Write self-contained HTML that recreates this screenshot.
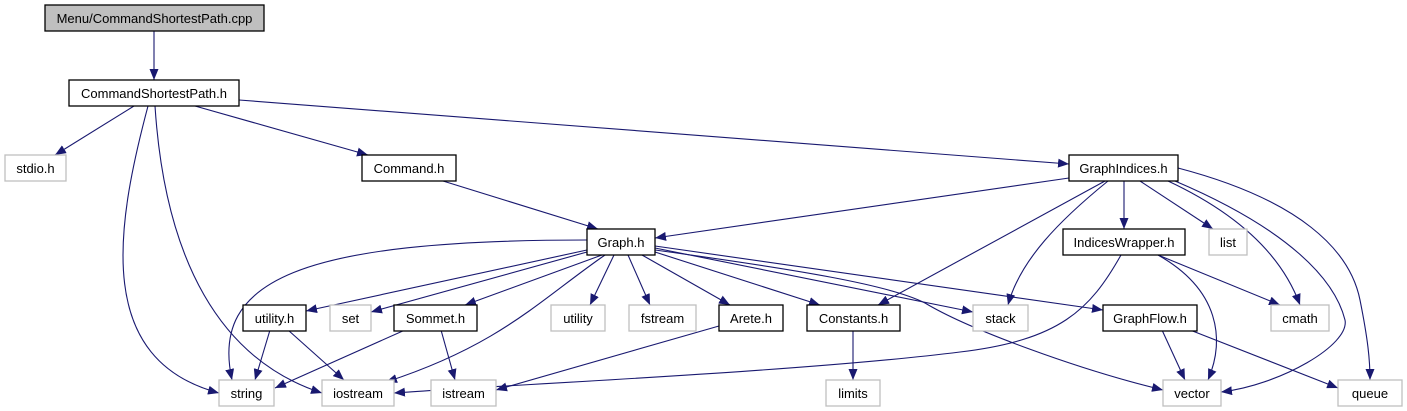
<!DOCTYPE html>
<html><head><meta charset="utf-8"><style>
html,body{margin:0;padding:0;background:#fff;}
svg{display:block;}
text{font-family:"Liberation Sans",Arial,sans-serif;font-size:13px;text-anchor:middle;fill:#000;}
.b{fill:#fff;stroke:#000;stroke-width:1.3;}
.g{fill:#fff;stroke:#bfbfbf;stroke-width:1.3;}
.e{fill:none;stroke:#191970;stroke-width:1.1;marker-end:url(#a);}
</style></head><body>
<svg width="1407" height="411" viewBox="0 0 1407 411" xmlns="http://www.w3.org/2000/svg">
<defs><marker id="a" markerWidth="11" markerHeight="9" refX="11" refY="4.5" orient="auto" markerUnits="userSpaceOnUse"><path d="M0,0 L11,4.5 L0,9 z" fill="#191970"/></marker></defs>
<!-- edges -->
<path class="e" d="M154,31 L154,80"/>
<path class="e" d="M134,106 L55,155"/>
<path class="e" d="M195,106 L368,155"/>
<path class="e" d="M239,100 L1069,164"/>
<path class="e" d="M148,106 C115,230 95,360 219,393"/>
<path class="e" d="M155,106 C165,260 220,360 322,393"/>
<path class="e" d="M443,181 L598,229"/>
<path class="e" d="M1069,178 L655,238"/>
<path class="e" d="M1124,181 L1124,229"/>
<path class="e" d="M1140,181 L1213,229"/>
<path class="e" d="M1105,181 L878,305"/>
<path class="e" d="M1108,181 C1060,220 1020,260 1008,305"/>
<path class="e" d="M1168,181 C1230,210 1280,250 1300,305"/>
<path class="e" d="M1175,181 C1290,230 1335,280 1345,320 C1350,345 1280,385 1221,392"/>
<path class="e" d="M1178,168 C1300,200 1350,250 1360,300 C1368,340 1370,360 1370,380"/>
<path class="e" d="M1121,255 C1090,310 1060,340 960,352 C800,372 500,385 394,393"/>
<path class="e" d="M1158,255 L1280,305"/>
<path class="e" d="M1158,255 C1220,290 1225,340 1208,380"/>
<path class="e" d="M587,240 C300,240 210,280 232,380"/>
<path class="e" d="M587,250 L306,311"/>
<path class="e" d="M587,252 L371,312"/>
<path class="e" d="M602,255 L465,305"/>
<path class="e" d="M605,255 C540,300 500,345 386,382"/>
<path class="e" d="M614,255 L590,305"/>
<path class="e" d="M628,255 L650,305"/>
<path class="e" d="M642,255 L730,305"/>
<path class="e" d="M655,252 L820,305"/>
<path class="e" d="M655,248 L973,312"/>
<path class="e" d="M655,250 C800,270 890,285 925,303 C970,330 1080,370 1163,390"/>
<path class="e" d="M655,246 L1103,310"/>
<path class="e" d="M270,330 L255,380"/>
<path class="e" d="M288,330 L344,380"/>
<path class="e" d="M405,330 L275,388"/>
<path class="e" d="M441,330 L455,380"/>
<path class="e" d="M719,326 L496,390"/>
<path class="e" d="M853,330 L853,380"/>
<path class="e" d="M1162,330 L1185,380"/>
<path class="e" d="M1190,330 L1338,388"/>
<!-- nodes -->
<rect x="45" y="5" width="219" height="26" fill="#bfbfbf" stroke="#000" stroke-width="1.3"/><text x="154.5" y="23">Menu/CommandShortestPath.cpp</text>
<rect class="b" x="69" y="80" width="170" height="26"/><text x="154" y="98">CommandShortestPath.h</text>
<rect class="g" x="5" y="155" width="61" height="26"/><text x="35.5" y="173">stdio.h</text>
<rect class="b" x="362" y="155" width="94" height="26"/><text x="409" y="173">Command.h</text>
<rect class="b" x="1069" y="155" width="109" height="26"/><text x="1123.5" y="173">GraphIndices.h</text>
<rect class="b" x="587" y="229" width="68" height="26"/><text x="621" y="247">Graph.h</text>
<rect class="b" x="1063" y="229" width="122" height="26"/><text x="1124" y="247">IndicesWrapper.h</text>
<rect class="g" x="1209" y="229" width="38" height="26"/><text x="1228" y="247">list</text>
<rect class="b" x="243" y="305" width="63" height="26"/><text x="274.5" y="323">utility.h</text>
<rect class="g" x="330" y="305" width="41" height="26"/><text x="350.5" y="323">set</text>
<rect class="b" x="394" y="305" width="83" height="26"/><text x="435.5" y="323">Sommet.h</text>
<rect class="g" x="551" y="305" width="54" height="26"/><text x="578" y="323">utility</text>
<rect class="g" x="629" y="305" width="67" height="26"/><text x="662.5" y="323">fstream</text>
<rect class="b" x="719" y="305" width="64" height="26"/><text x="751" y="323">Arete.h</text>
<rect class="b" x="807" y="305" width="93" height="26"/><text x="853.5" y="323">Constants.h</text>
<rect class="g" x="973" y="305" width="55" height="26"/><text x="1000.5" y="323">stack</text>
<rect class="b" x="1103" y="305" width="94" height="26"/><text x="1150" y="323">GraphFlow.h</text>
<rect class="g" x="1271" y="305" width="58" height="26"/><text x="1300" y="323">cmath</text>
<rect class="g" x="219" y="380" width="55" height="26"/><text x="246.5" y="398">string</text>
<rect class="g" x="322" y="380" width="72" height="26"/><text x="358" y="398">iostream</text>
<rect class="g" x="431" y="380" width="65" height="26"/><text x="463.5" y="398">istream</text>
<rect class="g" x="826" y="380" width="54" height="26"/><text x="853" y="398">limits</text>
<rect class="g" x="1163" y="380" width="58" height="26"/><text x="1192" y="398">vector</text>
<rect class="g" x="1338" y="380" width="64" height="26"/><text x="1370" y="398">queue</text>
</svg>
</body></html>
